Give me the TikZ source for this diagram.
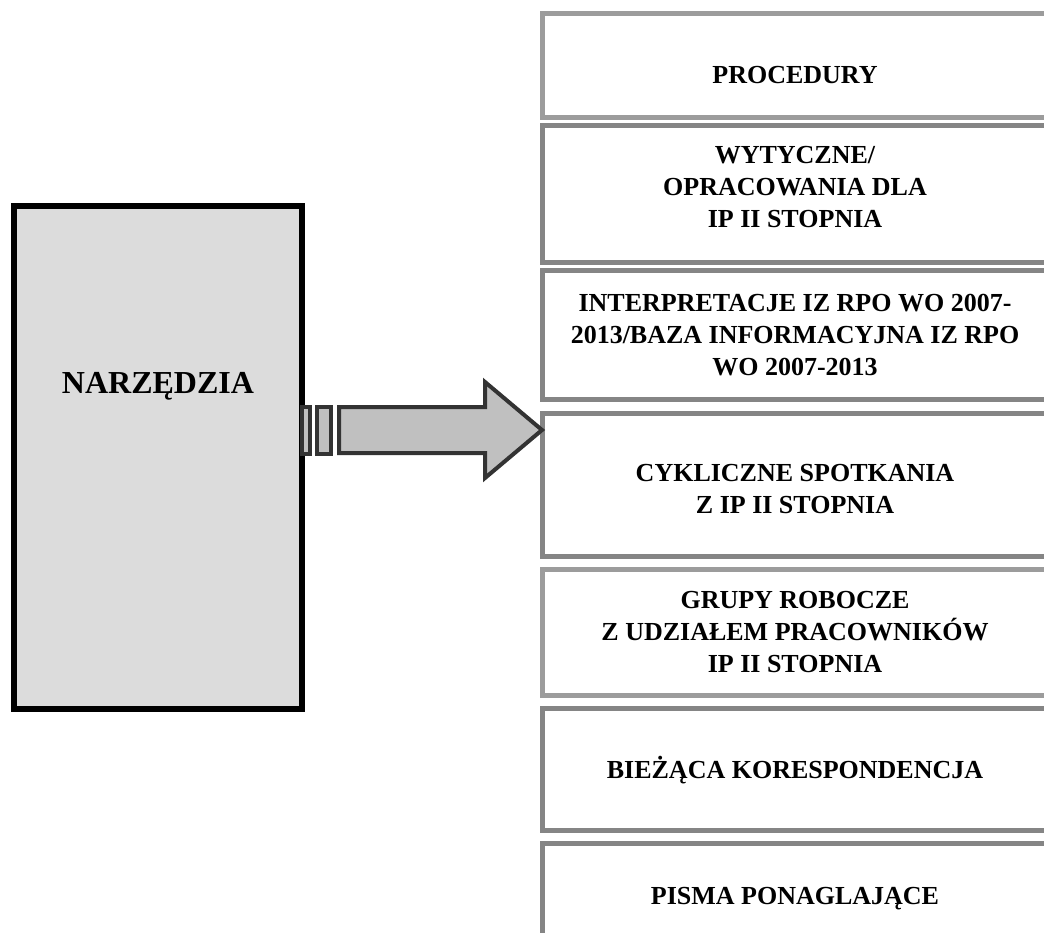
\documentclass[tikz,border=0pt]{standalone}
\usepackage{fontspec}
\setmainfont{Liberation Serif}
\usetikzlibrary{calc}
\definecolor{framelight}{HTML}{9C9C9C}
\definecolor{framedark}{HTML}{858585}
\definecolor{toolfill}{HTML}{DCDCDC}
\definecolor{arrowfill}{HTML}{C0C0C0}
\definecolor{arrowline}{HTML}{333333}

\begin{document}
\begin{tikzpicture}[x=1pt, y=-1pt,
		frame/.style={draw=framedark, line width=5pt},
		framelit/.style={draw=framelight, line width=5pt},
		tooltext/.style={align=center, inner sep=0pt, font=\bfseries\fontsize{26}{32}\selectfont},
		blockarrow/.style={draw=arrowline, line width=4pt, fill=arrowfill, line join=miter}]
			%%%%% START %%%%%
			
			\useasboundingbox (0, 0) rectangle (1044, 932);
			\clip (0, 0) rectangle (1044, 932);
			
			% main box
			\node[draw, line width=6pt, fill=toolfill, minimum width=288pt, minimum height=503pt, inner sep=0pt] (tools) at (158, 457.5) {};
			\node[font=\bfseries\fontsize{32}{36}\selectfont] (toolsname) at (158, 386) {NARZĘDZIA};
			
			% frames on the right
			\draw[framelit] (542, 13) rectangle (1060, 117);
			\draw[frame] (542, 125) rectangle (1060, 262);
			\draw[frame] (542, 270) rectangle (1060, 399);
			\draw[frame] (542, 413) rectangle (1060, 556);
			\draw[framelit] (542, 569) rectangle (1060, 695);
			\draw[frame] (542, 708) rectangle (1060, 830);
			\draw[frame] (542, 843) rectangle (1060, 975);
			
			% list of tools
			\node[tooltext] (proc) at (795, 75) {PROCEDURY};
			\node[tooltext] (wyt) at (795, 187) {WYTYCZNE/\\OPRACOWANIA DLA\\IP II STOPNIA};
			\node[tooltext] (interp) at (795, 335) {INTERPRETACJE IZ RPO WO 2007-\\2013/BAZA INFORMACYJNA IZ RPO\\WO 2007-2013};
			\node[tooltext] (cykl) at (795, 489) {CYKLICZNE SPOTKANIA\\Z IP II STOPNIA};
			\node[tooltext] (grupy) at (795, 632) {GRUPY ROBOCZE\\Z UDZIAŁEM PRACOWNIKÓW\\IP II STOPNIA};
			\node[tooltext] (kores) at (795, 770) {BIEŻĄCA KORESPONDENCJA};
			\node[tooltext] (pisma) at (795, 899) {PISMA PONAGLAJĄCE};
			
			% arrow
			\coordinate (tail) at ($(tools.east |- 0,430)+(-3,0)$);
			\coordinate (tip) at (542, 430);
			\draw[blockarrow] (tail) ++(0,-23) rectangle ++(8,47);
			\draw[blockarrow] (tail) ++(15,-23) rectangle ++(14,47);
			\draw[blockarrow] ($(tail)+(37,-23)$) -- ($(tip)+(-57,-23)$) -- ($(tip)+(-57,-48)$) -- (tip)
				-- ($(tip)+(-57,48)$) -- ($(tip)+(-57,23)$) -- ($(tail)+(37,23)$) -- cycle;
			
			%%%%% END %%%%%
		\end{tikzpicture}
\end{document}
